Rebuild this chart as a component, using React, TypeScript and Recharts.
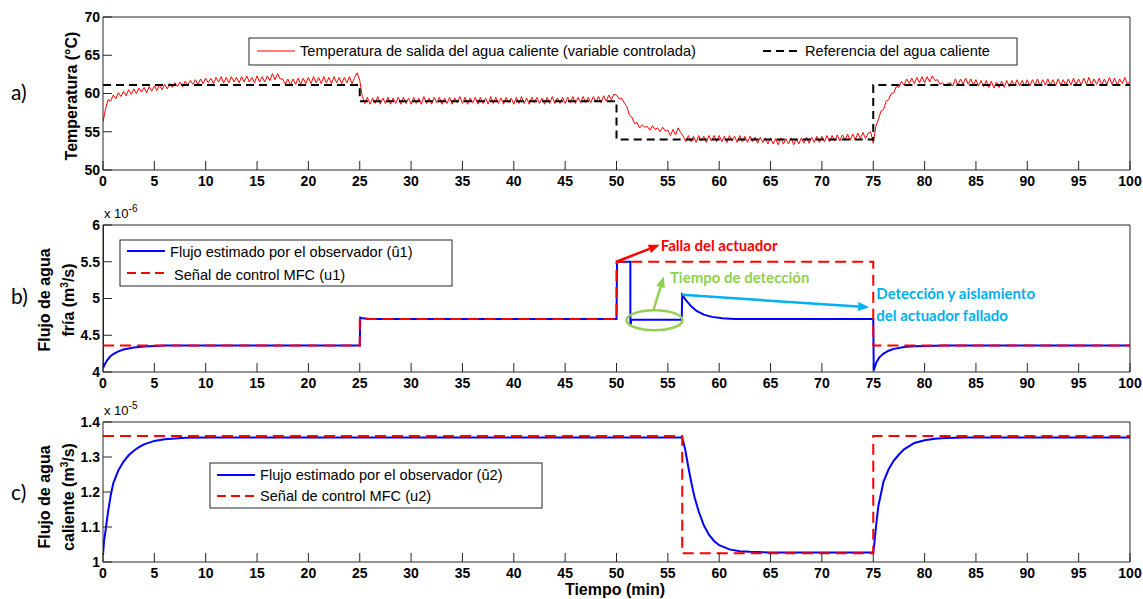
import React from 'react';
import { LineChart, Line, XAxis, YAxis, ReferenceLine, ReferenceDot } from 'recharts';

const W = 1143;
const H = 599;
const PLOT_LEFT = 103;
const PLOT_RIGHT = 1130;
const Y_AXIS_W = 40;
const X_AXIS_H = 30;
const AXIS = '#262626';
const FONT = "'Liberation Sans', Arial, Helvetica, sans-serif";
const NOTE_FONT = "Lato, 'Open Sans', sans-serif";

const timeTicks = [0, 5, 10, 15, 20, 25, 30, 35, 40, 45, 50, 55, 60, 65, 70, 75, 80, 85, 90, 95, 100];
const tempTicks = [50, 55, 60, 65, 70];
const coldTicks = [4, 4.5, 5, 5.5, 6];
const hotTicks = [1, 1.1, 1.2, 1.3, 1.4];

// measured temperature, one sample every 0.25 min
const TEMP_STEP = 0.25;
const temp00 = [
  56.3, 58.0, 59.2, 59.0, 59.8, 59.3, 60.1, 59.6, 60.3, 59.7, 60.5, 59.9, 60.6, 60.0, 60.7, 60.2, 60.8, 60.1, 60.9, 60.3,
  61.0, 60.4, 61.1, 60.5, 61.2, 60.6, 61.3, 60.8, 61.4, 60.9, 61.5, 60.9, 61.6, 61.1, 61.7, 61.2, 61.8, 61.2, 61.9, 61.3,
  62.0, 61.4, 62.0, 61.3, 62.1, 61.5, 62.2, 61.4, 62.1, 61.4, 62.2, 61.5, 62.1, 61.4, 62.2, 61.5, 62.3, 61.5, 62.1, 61.4,
  62.3, 61.5, 62.2, 61.5, 62.3, 61.7, 62.6, 61.8, 62.6, 61.9, 61.9, 61.2, 61.9, 61.1, 61.9, 61.2, 62.0, 61.2, 62.0, 61.3,
  62.1, 61.3, 62.2, 61.4, 62.1, 61.3, 62.2, 61.4, 62.1, 61.3, 62.2, 61.4, 62.1, 61.3, 62.1, 61.4, 62.2, 61.3, 62.1, 62.7,
];
const temp25 = [
  61.7, 59.6, 58.7, 59.5, 58.6, 59.4, 58.7, 59.6, 58.6, 59.4, 58.7, 59.5, 58.6, 59.4, 58.7, 59.5, 58.6, 59.5, 58.7, 59.4,
  58.6, 59.5, 58.7, 59.4, 58.6, 59.6, 58.7, 59.4, 58.6, 59.5, 58.8, 59.5, 58.6, 59.4, 58.7, 59.5, 58.6, 59.4, 58.8, 59.6,
  58.7, 59.5, 58.6, 59.4, 58.8, 59.5, 58.6, 59.5, 58.7, 59.4, 58.6, 59.6, 58.7, 59.5, 58.7, 59.4, 58.6, 59.5, 58.8, 59.4,
  58.6, 59.5, 58.7, 59.6, 58.7, 59.4, 58.6, 59.5, 58.8, 59.5, 58.7, 59.4, 58.6, 59.5, 58.7, 59.6, 58.7, 59.4, 58.7, 59.5,
  58.7, 59.5, 58.8, 59.6, 58.7, 59.5, 58.8, 59.6, 58.8, 59.5, 58.8, 59.6, 58.9, 59.6, 58.8, 59.7, 59.0, 59.8, 59.2, 59.9,
];
const temp50 = [
  59.8, 59.3, 59.4, 58.8, 58.3, 57.2, 56.9, 56.1, 56.2, 55.5, 55.9, 55.6, 55.7, 55.2, 55.8, 55.3, 55.5, 55.0, 55.6, 55.1,
  55.2, 54.5, 55.3, 54.6, 55.5, 54.9, 54.4, 53.7, 54.5, 53.7, 54.4, 53.6, 54.5, 53.8, 54.4, 53.6, 54.5, 53.8, 54.5, 53.7,
  54.5, 53.7, 54.4, 53.6, 54.5, 53.8, 54.4, 53.6, 54.5, 53.7, 54.4, 53.6, 54.4, 53.7, 54.3, 53.5, 54.3, 53.6, 54.2, 53.4,
  54.2, 53.4, 54.1, 53.3, 54.2, 53.4, 54.1, 53.4, 54.2, 53.3, 54.1, 53.4, 54.2, 53.5, 54.3, 53.5, 54.3, 53.6, 54.4, 53.6,
  54.4, 53.7, 54.5, 53.7, 54.5, 53.8, 54.6, 53.8, 54.6, 53.9, 54.7, 53.9, 54.7, 54.0, 54.8, 54.1, 54.9, 54.1, 54.8, 55.0,
];
const temp75 = [
  53.5, 55.7, 56.6, 57.7, 57.9, 59.0, 59.2, 60.0, 60.1, 60.9, 60.8, 61.6, 61.1, 61.9, 61.3, 62.0, 61.3, 62.1, 61.4, 62.2,
  61.4, 62.2, 61.5, 62.3, 61.7, 61.8, 61.2, 61.4, 61.0, 61.3, 61.4, 61.0, 61.9, 61.1, 61.9, 61.2, 62.0, 61.2, 61.9, 61.1,
  61.8, 61.0, 61.7, 60.9, 61.7, 60.8, 61.6, 60.7, 61.5, 60.8, 61.6, 60.8, 61.7, 60.9, 61.7, 61.0, 61.8, 61.0, 61.7, 61.0,
  61.8, 61.0, 61.8, 61.1, 61.9, 61.0, 61.8, 61.1, 61.9, 61.1, 61.8, 61.0, 61.9, 61.1, 61.8, 61.1, 61.9, 61.1, 62.0, 61.2,
  61.9, 61.1, 62.0, 61.2, 62.1, 61.1, 61.9, 61.2, 62.0, 61.1, 61.9, 61.2, 62.1, 61.2, 62.0, 61.1, 61.9, 61.3, 62.1, 61.2,
  61.6,
];

const refTime = [0, 25, 25, 50, 50, 75, 75, 100];
const refTemp = [61.1, 61.1, 59, 59, 54, 54, 61.1, 61.1];

// cold water flow, x 1e-6 m3/s
const obs1Time = [0, 0, 0.15, 0.4, 0.7, 1, 1.5, 2, 2.5, 3, 4, 5, 6, 25, 25.05, 25.3, 26, 50, 50.05, 51.35, 51.35, 51.45, 56.35, 56.4, 56.8, 57.3, 57.8, 58.5, 59.3, 60.3, 61.5, 75, 75.05, 75.3, 75.6, 76, 76.5, 77, 78, 79, 80, 82, 100];
const obs1Flow = [6, 4.05, 4.1, 4.16, 4.21, 4.245, 4.28, 4.305, 4.32, 4.332, 4.347, 4.355, 4.36, 4.36, 4.74, 4.73, 4.72, 4.72, 5.5, 5.5, 4.62, 4.71, 4.71, 5.05, 4.97, 4.89, 4.83, 4.78, 4.75, 4.73, 4.72, 4.72, 4.02, 4.13, 4.2, 4.25, 4.29, 4.315, 4.34, 4.35, 4.355, 4.36, 4.36];
const mfc1Time = [0, 25, 25, 50, 50, 75, 75, 100];
const mfc1Flow = [4.36, 4.36, 4.72, 4.72, 5.5, 5.5, 4.36, 4.36];

// hot water flow, x 1e-5 m3/s
const obs2Time = [0, 0.1, 0.25, 0.5, 0.75, 1, 1.5, 2, 2.5, 3, 3.5, 4, 5, 6, 7, 8, 10, 56.4, 56.7, 57, 57.3, 57.6, 58, 58.5, 59, 59.5, 60, 61, 62, 63, 65, 75, 75.1, 75.3, 75.5, 76, 76.5, 77, 77.5, 78, 79, 80, 81, 82, 84, 100];
const obs2Flow = [1.02, 1.06, 1.09, 1.145, 1.19, 1.225, 1.262, 1.287, 1.305, 1.318, 1.328, 1.336, 1.346, 1.351, 1.353, 1.355, 1.356, 1.356, 1.32, 1.27, 1.225, 1.185, 1.145, 1.105, 1.078, 1.06, 1.048, 1.036, 1.031, 1.029, 1.027, 1.027, 1.05, 1.11, 1.16, 1.23, 1.265, 1.29, 1.307, 1.322, 1.34, 1.348, 1.352, 1.354, 1.356, 1.356];
const mfc2Time = [0, 56.4, 56.4, 75, 75, 100];
const mfc2Flow = [1.36, 1.36, 1.025, 1.025, 1.36, 1.36];

const zip = (ts: number[], vs: number[]) => ts.map((t, i) => ({ t, v: vs[i] }));

const tempData = [
  { start: 0, values: temp00 },
  { start: 25, values: temp25 },
  { start: 50, values: temp50 },
  { start: 75, values: temp75 },
].flatMap((s) => s.values.map((v, i) => ({ t: s.start + i * TEMP_STEP, v })));
const refData = zip(refTime, refTemp);
const obs1Data = zip(obs1Time, obs1Flow);
const mfc1Data = zip(mfc1Time, mfc1Flow);
const obs2Data = zip(obs2Time, obs2Flow);
const mfc2Data = zip(mfc2Time, mfc2Flow);

const tickStyle = { fill: '#000', fontSize: 14, fontWeight: 'bold', fontFamily: FONT };

const arrow = (color: string) => (p: any) => {
  const { x1, y1, x2, y2 } = p;
  const a = Math.atan2(y2 - y1, x2 - x1);
  const L = 11;
  const w = 4.5;
  const bx = x2 - L * Math.cos(a);
  const by = y2 - L * Math.sin(a);
  const pts = `${x2},${y2} ${bx + w * Math.sin(a)},${by - w * Math.cos(a)} ${bx - w * Math.sin(a)},${by + w * Math.cos(a)}`;
  return (
    <g>
      <line x1={x1} y1={y1} x2={bx} y2={by} stroke={color} strokeWidth={2.5} />
      <polygon points={pts} fill={color} />
    </g>
  );
};

const note = (text: string, color: string) => (p: any) => (
  <text x={p.cx} y={p.cy} dy="0.35em" fill={color} fontFamily={NOTE_FONT} fontWeight="bold" fontSize={15}>
    {text}
  </text>
);

type PanelProps = {
  top: number;
  bottom: number;
  domain: [number, number];
  yTicks: number[];
  children: React.ReactNode;
};

const Panel = ({ top, bottom, domain, yTicks, children }: PanelProps) => (
  <div style={{ position: 'absolute', left: 0, top: 0 }}>
    <LineChart
      width={W}
      height={H}
      margin={{ top: top - 1, right: W - PLOT_RIGHT - 1, bottom: H - bottom - X_AXIS_H, left: PLOT_LEFT - Y_AXIS_W }}
    >
      <XAxis dataKey="t" type="number" domain={[0, 100]} ticks={timeTicks} interval={0} allowDataOverflow
        height={X_AXIS_H} tickSize={-9} tickMargin={15} stroke={AXIS} tick={tickStyle} />
      <XAxis xAxisId="top" orientation="top" type="number" domain={[0, 100]} ticks={timeTicks} interval={0}
        allowDataOverflow height={1} tickSize={-9} tick={false} stroke={AXIS} />
      <YAxis type="number" domain={domain} ticks={yTicks} interval={0} allowDataOverflow width={Y_AXIS_W}
        tickSize={-9} tickMargin={12} stroke={AXIS} tick={tickStyle} />
      <YAxis yAxisId="right" orientation="right" type="number" domain={domain} ticks={yTicks} interval={0}
        allowDataOverflow width={1} tickSize={-9} tick={false} stroke={AXIS} />
      {children}
    </LineChart>
  </div>
);

const Super = ({ base, sup }: { base: string; sup: string }) => (
  <>
    {base}
    <tspan dy={-6} fontSize={10}>{sup}</tspan>
  </>
);

export default function App() {
  return (
    <div style={{ position: 'absolute', left: 0, top: 0, width: W, height: H, background: '#fff', fontFamily: FONT }}>
      <Panel top={17} bottom={170} domain={[50, 70]} yTicks={tempTicks}>
        <Line data={tempData} dataKey="v" type="linear" stroke="#ff0000" strokeWidth={1} dot={false} isAnimationActive={false} />
        <Line data={refData} dataKey="v" type="linear" stroke="#000" strokeWidth={2} strokeDasharray="8 5" dot={false} isAnimationActive={false} />
      </Panel>

      <Panel top={225} bottom={372} domain={[4, 6]} yTicks={coldTicks}>
        <Line data={obs1Data} dataKey="v" type="linear" stroke="#0000ff" strokeWidth={2} dot={false} isAnimationActive={false} />
        <Line data={mfc1Data} dataKey="v" type="linear" stroke="#ff0000" strokeWidth={2} strokeDasharray="11 6" dot={false} isAnimationActive={false} />
        <ReferenceLine segment={[{ x: 50, y: 5.5 }, { x: 54.2, y: 5.73 }]} shape={arrow('#ff0000')} />
        <ReferenceDot x={54.3} y={5.72} r={0} shape={note('Falla del actuador', '#ff0000')} />
        <ReferenceDot x={53.7} y={4.705} r={0}
          shape={(p: any) => <ellipse cx={p.cx} cy={p.cy} rx={28} ry={10} fill="none" stroke="#92d050" strokeWidth={2.5} />} />
        <ReferenceLine segment={[{ x: 53.6, y: 4.84 }, { x: 54.6, y: 5.3 }]} shape={arrow('#92d050')} />
        <ReferenceDot x={55.2} y={5.28} r={0} shape={note('Tiempo de detección', '#92d050')} />
        <ReferenceLine segment={[{ x: 56.4, y: 5.05 }, { x: 74.6, y: 4.88 }]} shape={arrow('#00b0f0')} />
        <ReferenceDot x={75.3} y={5.07} r={0} shape={note('Detección y aislamiento', '#00b0f0')} />
        <ReferenceDot x={75.3} y={4.76} r={0} shape={note('del actuador fallado', '#00b0f0')} />
      </Panel>

      <Panel top={422} bottom={562} domain={[1, 1.4]} yTicks={hotTicks}>
        <Line data={obs2Data} dataKey="v" type="linear" stroke="#0000ff" strokeWidth={2} dot={false} isAnimationActive={false} />
        <Line data={mfc2Data} dataKey="v" type="linear" stroke="#ff0000" strokeWidth={2} strokeDasharray="11 6" dot={false} isAnimationActive={false} />
      </Panel>

      <svg width={W} height={H} style={{ position: 'absolute', left: 0, top: 0, pointerEvents: 'none' }} fontFamily={FONT}>
        <g fontFamily={NOTE_FONT} fontSize={21} fill="#000">
          <text x={11} y={100}>a)</text>
          <text x={11} y={304}>b)</text>
          <text x={11} y={500}>c)</text>
        </g>

        <g fontWeight="bold" fontSize={16} fill="#000" textAnchor="middle">
          <text transform="translate(77,96) rotate(-90)">Temperatura (°C)</text>
          <text transform="translate(50,300) rotate(-90)">Flujo de agua</text>
          <text transform="translate(74,300) rotate(-90)">fría (m<tspan dy={-6} fontSize={10}>3</tspan><tspan dy={6}>/s)</tspan></text>
          <text transform="translate(50,497) rotate(-90)">Flujo de agua</text>
          <text transform="translate(74,497) rotate(-90)">caliente (m<tspan dy={-6} fontSize={10}>3</tspan><tspan dy={6}>/s)</tspan></text>
          <text x={615} y={595}>Tiempo (min)</text>
        </g>

        <g fontSize={13} fill="#000">
          <text x={104} y={218}><Super base="x 10" sup="-6" /></text>
          <text x={104} y={415}><Super base="x 10" sup="-5" /></text>
        </g>

        <g fontSize={14.6} fill="#000">
          <rect x={249} y={38} width={768} height={27} fill="#fff" stroke={AXIS} />
          <line x1={257} y1={51} x2={295} y2={51} stroke="#ff0000" strokeWidth={1} />
          <text x={300} y={56}>Temperatura de salida del agua caliente (variable controlada)</text>
          <line x1={763} y1={51} x2={801} y2={51} stroke="#000" strokeWidth={2} strokeDasharray="8 5" />
          <text x={805} y={56}>Referencia del agua caliente</text>

          <rect x={120} y={240} width={332} height={46} fill="#fff" stroke={AXIS} />
          <line x1={127} y1={251} x2={165} y2={251} stroke="#0000ff" strokeWidth={2} />
          <text x={170} y={257}>Flujo estimado por el observador (û1)</text>
          <line x1={127} y1={273} x2={165} y2={273} stroke="#ff0000" strokeWidth={2} strokeDasharray="9 5" />
          <text x={174} y={280}>Señal de control MFC (u1)</text>

          <rect x={210} y={463} width={332} height={45} fill="#fff" stroke={AXIS} />
          <line x1={217} y1={475} x2={255} y2={475} stroke="#0000ff" strokeWidth={2} />
          <text x={260} y={480}>Flujo estimado por el observador (û2)</text>
          <line x1={217} y1={496} x2={255} y2={496} stroke="#ff0000" strokeWidth={2} strokeDasharray="9 5" />
          <text x={260} y={501}>Señal de control MFC (u2)</text>
        </g>
      </svg>
    </div>
  );
}
